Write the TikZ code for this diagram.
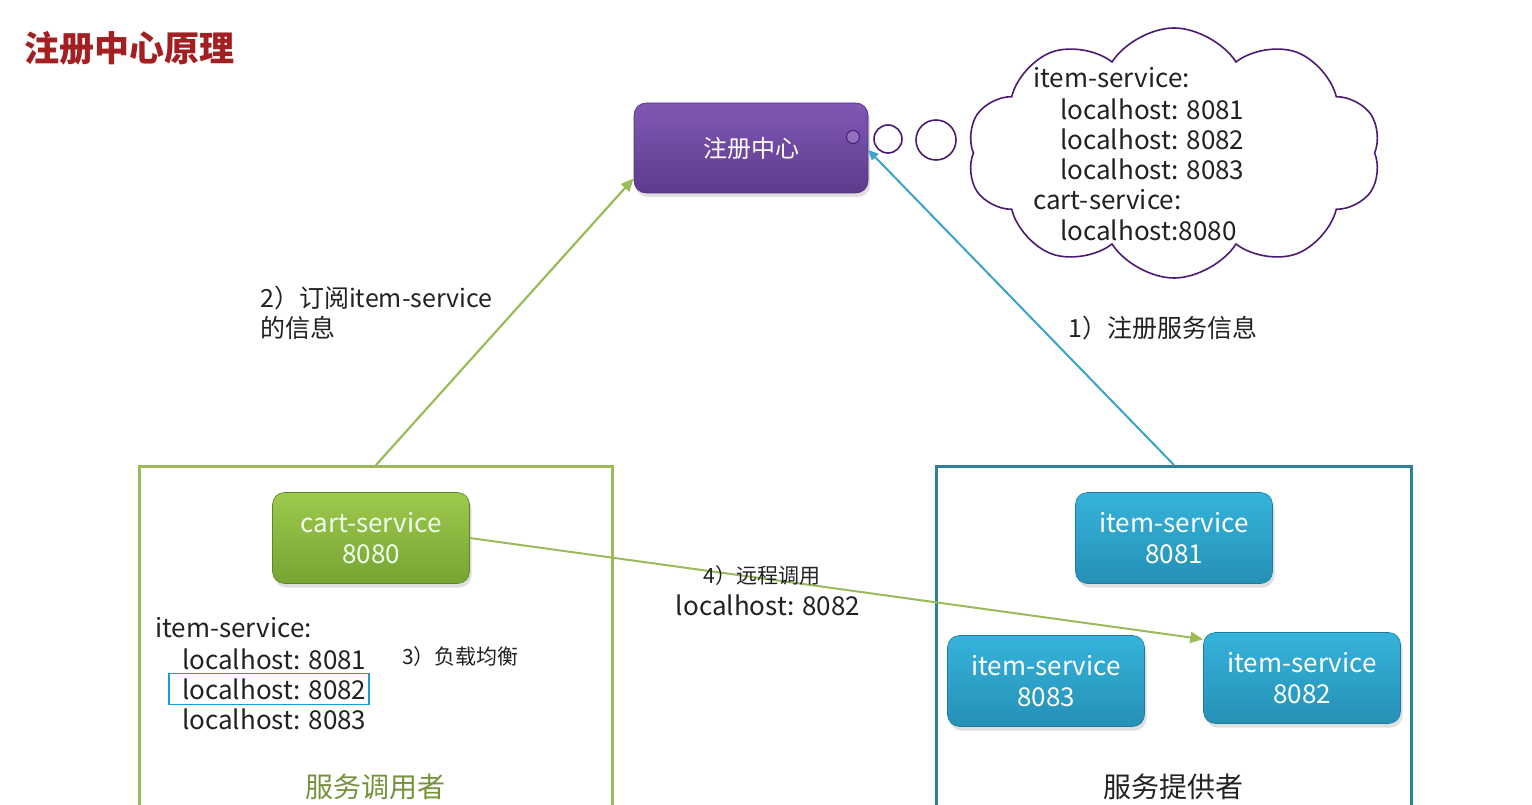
\documentclass[tikz,border=0pt]{standalone}
\usepackage{fontspec}
\setmainfont{Noto Sans CJK SC}
\usetikzlibrary{arrows.meta,shapes.symbols,shadows,calc}
\definecolor{gline}{HTML}{9BBB59}
\definecolor{gtop}{HTML}{9DC94C}
\definecolor{gbot}{HTML}{77A432}
\definecolor{ttop}{HTML}{36B3DB}
\definecolor{tbot}{HTML}{2590B6}
\definecolor{tframe}{HTML}{2E7F98}
\definecolor{tarrow}{HTML}{3BA3C8}
\definecolor{ptop}{HTML}{7F58B4}
\definecolor{pbot}{HTML}{5E3B8D}
\definecolor{pline}{HTML}{4A1B70}
\definecolor{titlered}{HTML}{A21F22}
\definecolor{hlblue}{HTML}{1F9AD6}
\definecolor{dgreen}{HTML}{76923C}
\definecolor{txt}{HTML}{222222}
\tikzset{
  svcbox/.style={rounded corners=12pt, minimum width=197pt, minimum height=91pt, align=center,
    text=white, font=\fontsize{26}{31}\selectfont, drop shadow={opacity=0.25, shadow xshift=2pt, shadow yshift=-4pt}},
  greenbox/.style={svcbox, top color=gtop, bottom color=gbot, draw=gbot!80!black, line width=0.6pt, text=white!94!green},
  tealbox/.style={svcbox, top color=ttop, bottom color=tbot, draw=tbot!85!black, line width=0.6pt},
  regbox/.style={svcbox, font=\fontsize{24}{30}\selectfont, minimum width=234pt, minimum height=90pt, top color=ptop, bottom color=pbot, draw=pbot!85!black, line width=0.6pt},
  bubble/.style={circle, draw=pline, line width=1.6pt, fill=white, inner sep=0pt},
  plain/.style={text=txt, inner sep=0pt, font=\fontsize{26}{30}\selectfont},
  small/.style={text=txt, inner sep=0pt, font=\fontsize{21}{26}\selectfont},
  frame/.style={draw, line width=3pt, minimum width=473pt, minimum height=360pt, anchor=north west, inner sep=0pt},
  garrow/.style={draw=gline, line width=2.2pt, -{Triangle[length=13pt,width=11pt]}},
  tarr/.style={draw=tarrow, line width=2pt, -{Triangle[length=10pt,width=9pt]}},
}
\begin{document}
\begin{tikzpicture}[x=1pt,y=-1pt]
\path[use as bounding box, fill=white] (0,0) rectangle (1532,805);

% title
\node[anchor=west, inner sep=0pt, text=titlered, font=\fontsize{35}{40}\selectfont\bfseries] (title) at (24,48) {注册中心原理};

% frames
\node[frame, draw=gline] (lbox) at (138,465) {};
\node[frame, draw=tframe, minimum width=475pt] (rbox) at (935,465) {};

% registry
\node[regbox] (reg) at (751,148) {注册中心};
\node[circle, draw=pline, line width=1pt, fill=ptop!85!white, minimum size=13pt, inner sep=0pt] (dot) at (853,137) {};
\node[bubble, minimum size=28pt] (b1) at (888,139) {};
\node[bubble, minimum size=40pt] (b2) at (936,140) {};

% cloud
\node[cloud, draw=pline, line width=1.6pt, fill=white, cloud puffs=10, cloud puff arc=115, cloud ignores aspect,
      minimum width=414pt, minimum height=250pt] (cloud) at (1174,153) {};
\node[plain, anchor=west] (c1) at (1033,78) {item-service:};
\node[plain, anchor=west] (c2) at (1060,109) {localhost: 8081};
\node[plain, anchor=west] (c3) at (1060,139) {localhost: 8082};
\node[plain, anchor=west] (c4) at (1060,169) {localhost: 8083};
\node[plain, anchor=west] (c5) at (1033,200) {cart-service:};
\node[plain, anchor=west] (c6) at (1060,230) {localhost:8080};

% services
\node[greenbox] (cart) at (371,538) {cart-service\\8080};
\node[tealbox] (i1) at (1174,538) {item-service\\8081};
\node[tealbox] (i3) at (1046,681) {item-service\\8083};
\node[tealbox] (i2) at (1302,678) {item-service\\8082};

% left list
\node[plain, anchor=west] (l0) at (155,628) {item-service:};
\node[plain, anchor=west] (l1) at (182,659) {localhost: 8081};
\node[draw=hlblue, line width=1.8pt, minimum width=200pt, minimum height=31pt, inner sep=0pt] (hl) at (269,689) {};
\node[plain, anchor=west] (l2) at (182,689) {localhost: 8082};
\node[plain, anchor=west] (l3) at (182,719) {localhost: 8083};
\node[small, anchor=west] (lb3) at (402,657) {3）负载均衡};

% frame captions
\node[inner sep=0pt, text=dgreen, font=\fontsize{28}{32}\selectfont] (capl) at (375,787) {服务调用者};
\node[inner sep=0pt, text=txt, font=\fontsize{28}{32}\selectfont] (capr) at (1173,787) {服务提供者};

% arrows
\draw[garrow] (lbox.north) -- ($(reg.south west)+(0,-15)$);
\draw[tarr] (rbox.north) -- ($(reg.east)+(0,2)$);
\draw[garrow, line width=2pt] (cart.east) -- ($(i2.north west)+(0,7)$);

% labels
\node[plain, anchor=west, align=left, font=\fontsize{25}{30}\selectfont] (lab2) at (260,313) {2）订阅item-service\\的信息};
\node[plain, anchor=west, font=\fontsize{25}{30}\selectfont] (lab1) at (1068,328) {1）注册服务信息};
\node[small] (lab4) at (762,576) {4）远程调用};
\node[plain] (lab4b) at (768,605) {localhost: 8082};
\end{tikzpicture}
\end{document}
